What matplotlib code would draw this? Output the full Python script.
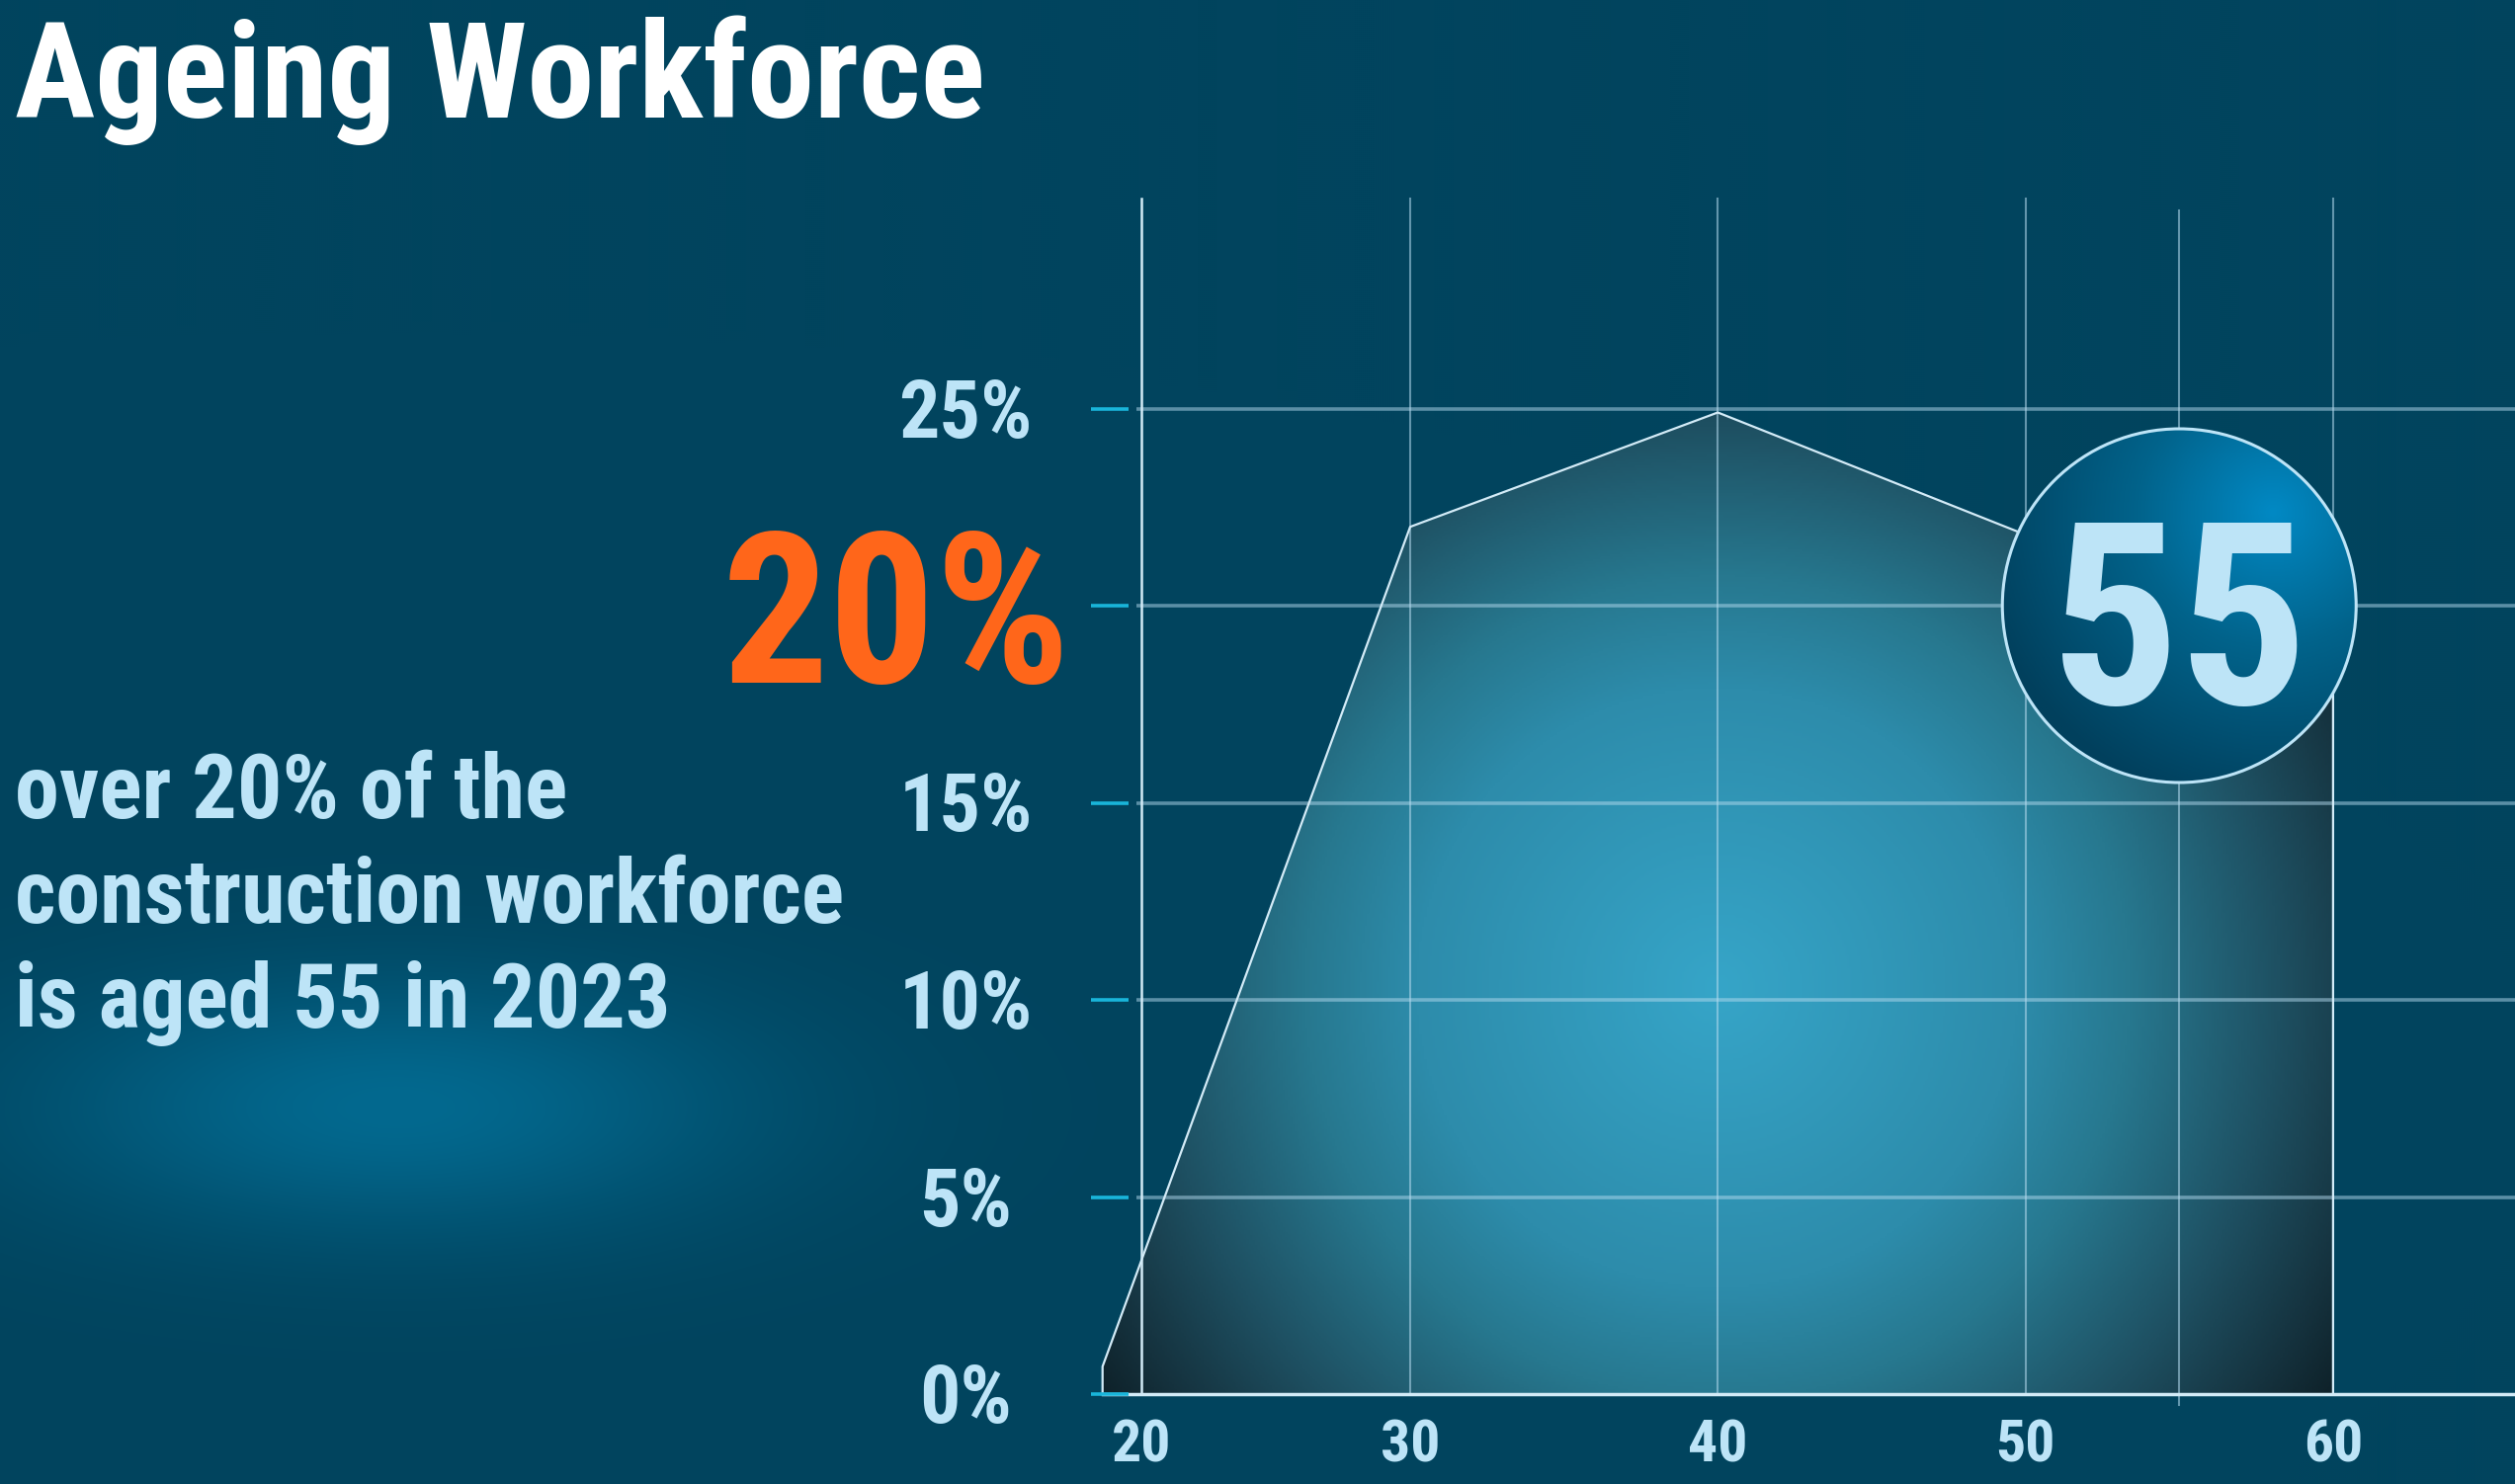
import numpy as np
import matplotlib
matplotlib.use('Agg')
import matplotlib.pyplot as plt
from matplotlib import font_manager as fm
from matplotlib.colors import LinearSegmentedColormap, to_rgb
from matplotlib.patches import Polygon, Ellipse

# data
ages = [20, 30, 40, 50, 60]
share = [0.7, 22.0, 24.9, 21.8, 19.0]
x_ticks = [20, 30, 40, 50, 60]
y_ticks = [0, 5, 10, 15, 20, 25]
y_labels = ['0%', '5%', '10%', '15%', '20%', '25%']
highlight_age = 55
highlight_share = 20
title = 'Ageing Workforce'
blurb = ['over 20% of the', 'construction workforce', 'is aged 55 in 2023']

# pick a narrow bold face if one is installed
names = {f.name for f in fm.fontManager.ttflist}
if 'Roboto Condensed' in names:
    FONT = dict(family='Roboto Condensed', fontweight='bold')
elif 'Liberation Sans Narrow' in names:
    FONT = dict(family='Liberation Sans Narrow', fontweight='bold')
else:
    FONT = dict(family='Roboto', fontweight='bold')

W, H = 2545, 1502
# pixel layout of the plotting area
X20, XS = 1115.7, 31.13
Y0, YS = 1411.0, 39.9


def ax_x(px):
    return (px - X20) / XS + 20


def ax_y(py):
    return (Y0 - py) / YS


LIGHT = '#bde4f7'
fig = plt.figure(figsize=(W / 100, H / 100), dpi=100)
ax = fig.add_axes([0, 0, 1, 1])
ax.axis('off')
ext = [ax_x(0), ax_x(W), ax_y(H), ax_y(0)]

# background with soft glow behind the text block
yy, xx = np.mgrid[0:H:2, 0:W:2]
glow = np.exp(-(((xx - 400) / 360) ** 2 + ((yy - 1120) / 130) ** 2))
base = np.array(to_rgb('#01445e'))
hi = np.array(to_rgb('#03698f'))
bg = base + glow[..., None] * (hi - base)
ax.imshow(bg, extent=ext, origin='upper', aspect='auto', zorder=0, interpolation='bilinear')

# area with radial gradient
verts = [(ages[0], 0)] + list(zip(ages, share)) + [(ages[-1], 0)]
poly = Polygon(verts, closed=True, facecolor='none', edgecolor='none', transform=ax.transData)
ax.add_patch(poly)
gx = np.linspace(ages[0], ages[-1], 500)
gy = np.linspace(0, max(share), 400)
GX, GY = np.meshgrid(gx, gy)
t = np.hypot(X20 + XS * (GX - 20) - 1737, Y0 - YS * GY - 1000) / 760
fill_cmap = LinearSegmentedColormap.from_list('fill', [
    (0, '#36a5c8'), (0.4, '#2d8cab'), (0.55, '#27788f'),
    (0.75, '#1e5062'), (0.9, '#15323e'), (1, '#0d1e25')])
im = ax.imshow(np.clip(t, 0, 1), cmap=fill_cmap, vmin=0, vmax=1,
               extent=[ages[0], ages[-1], 0, max(share)], origin='lower',
               aspect='auto', zorder=1)
im.set_clip_path(poly)

# grid
grid_c = '#b5dbef'
for v in y_ticks[1:]:
    ax.plot([ax_x(1150), ax_x(W)], [v, v], color=grid_c, alpha=0.5, lw=2.6,
            zorder=2, solid_capstyle='butt')
for a in x_ticks[1:]:
    ax.plot([a, a], [0, ax_y(201)], color=grid_c, alpha=0.55, lw=1.5, zorder=2)
ax.plot([highlight_age] * 2, [ax_y(1422), ax_y(213)], color=grid_c, alpha=0.55, lw=1.5, zorder=2)

# axis lines and outline
axis_c = '#d3ebf7'
ax.plot([ax_x(1155)] * 2, [0, ax_y(201)], color=axis_c, lw=1.8, zorder=3)
ax.plot([ages[0], ax_x(W)], [0, 0], color=axis_c, lw=2.5, zorder=3)
ax.plot(*zip(*verts), color=axis_c, lw=1.6, zorder=3)

# y ticks and labels
for v, lab in zip(y_ticks, y_labels):
    ax.plot([ax_x(1104), ax_x(1142)], [v, v], color='#19b5da', lw=2.6, zorder=3,
            solid_capstyle='butt')
    if v == highlight_share:
        ax.text(ax_x(907), ax_y(691), lab, color='#ff661a', fontsize=154,
                ha='center', va='baseline', zorder=4, **FONT)
    else:
        ax.text(ax_x(977), v - 29 / YS, lab, color=LIGHT, fontsize=59,
                ha='center', va='baseline', zorder=4, **FONT)

# x labels
for a in x_ticks:
    xpos = ax_x(1155) if a == x_ticks[0] else a
    ax.text(xpos, ax_y(1480), str(a), color=LIGHT, fontsize=43,
            ha='center', va='baseline', zorder=4, **FONT)

# highlight badge
R = 179
cx, cy = highlight_age, highlight_share
cpx, cpy = X20 + XS * (cx - 20), Y0 - YS * cy
badge = Ellipse((cx, cy), 2 * R / XS, 2 * R / YS, facecolor='none',
                edgecolor=LIGHT, lw=2.2, zorder=6)
ax.add_patch(badge)
bx = np.linspace(cpx - R, cpx + R, 300)
by = np.linspace(cpy - R, cpy + R, 300)
BX, BY = np.meshgrid(bx, by)
fx, fy = cpx + 0.75 * R * 0.707, cpy - 0.75 * R * 0.707
tb = np.clip(np.hypot(BX - fx, BY - fy) / (1.7 * R), 0, 1)
badge_cmap = LinearSegmentedColormap.from_list('badge', [
    (0, '#0289c4'), (0.45, '#01638b'), (1, '#01405d')])
bim = ax.imshow(tb, cmap=badge_cmap, vmin=0, vmax=1,
                extent=[ax_x(cpx - R), ax_x(cpx + R), ax_y(cpy + R), ax_y(cpy - R)],
                origin='upper', aspect='auto', zorder=5)
bim.set_clip_path(Ellipse((cx, cy), 2 * R / XS, 2 * R / YS, transform=ax.transData))
ax.text(cx, ax_y(712), str(highlight_age), color=LIGHT, fontsize=186,
        ha='center', va='baseline', zorder=7, **FONT)

ax.set_xlim(ext[0], ext[1])
ax.set_ylim(ext[2], ext[3])

# title and blurb
fig.text(15 / W, 1 - 119 / H, title, color='white', fontsize=98,
         ha='left', va='baseline', **FONT)
for i, line in enumerate(blurb):
    fig.text(15 / W, 1 - (828 + 106 * i) / H, line, color=LIGHT, fontsize=65,
             ha='left', va='baseline', **FONT)

fig.savefig('out.png', dpi=100, facecolor='#01445e')
